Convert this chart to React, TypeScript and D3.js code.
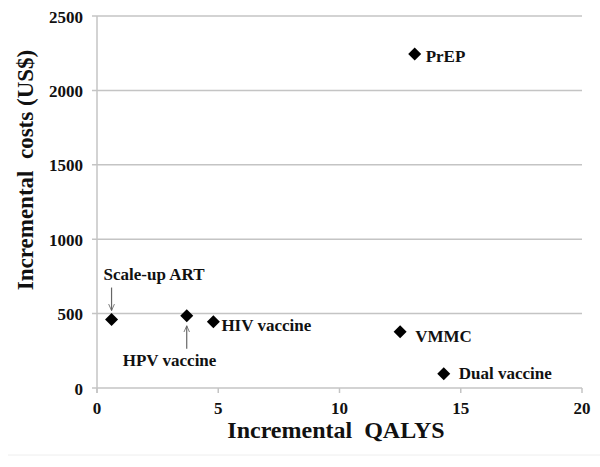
import React from "react";
import * as d3 from "d3";

const labels = ["Scale-up ART", "HPV vaccine", "HIV vaccine", "VMMC", "Dual vaccine", "PrEP"];
const qalys = [0.6, 3.7, 4.8, 12.5, 14.3, 13.1];
const costs = [460, 485, 445, 378, 95, 2245];
const xTicks = [0, 5, 10, 15, 20];
const yTicks = [0, 500, 1000, 1500, 2000, 2500];

export default function App() {
  const W = 600, H = 467;
  const x = d3.scaleLinear().domain([0, 20]).range([97, 582]);
  const y = d3.scaleLinear().domain([0, 2500]).range([388, 16]);
  const font = "'Liberation Serif', 'Times New Roman', serif";
  const diamond = (cx: number, cy: number) => {
    const r = 6.5;
    return `M${cx},${cy - r}L${cx + r},${cy}L${cx},${cy + r}L${cx - r},${cy}Z`;
  };
  const lab: Record<string, { dx: number; dy: number }> = {
    "Scale-up ART": { dx: -8, dy: -40 },
    "HPV vaccine": { dx: -64, dy: 50 },
    "HIV vaccine": { dx: 8, dy: 9 },
    "VMMC": { dx: 15, dy: 10 },
    "Dual vaccine": { dx: 15, dy: 5 },
    "PrEP": { dx: 11, dy: 8 },
  };
  return (
    <svg width={W} height={H} style={{ position: "absolute", left: 0, top: 0 }}>
      <rect width={W} height={H} fill="#fff" />
      {yTicks.map((t) => (
        <g key={t}>
          <line x1={x(0) - 5} x2={x(20)} y1={y(t)} y2={y(t)} stroke="#c4c4c4" strokeWidth={1.5} />
          <text x={x(0) - 14} y={y(t) + 6.5} textAnchor="end" fontFamily={font} fontWeight="bold" fontSize={17} fill="#111">
            {t}
          </text>
        </g>
      ))}
      <line x1={x(0)} x2={x(0)} y1={y(2500)} y2={y(0) + 5} stroke="#c4c4c4" strokeWidth={1.5} />
      {xTicks.map((t) => (
        <g key={t}>
          <line x1={x(t)} x2={x(t)} y1={y(0)} y2={y(0) + 5} stroke="#c4c4c4" strokeWidth={1.5} />
          <text x={x(t)} y={y(0) + 26} textAnchor="middle" fontFamily={font} fontWeight="bold" fontSize={17} fill="#111">
            {t}
          </text>
        </g>
      ))}
      <defs>
        <marker id="ah" viewBox="0 0 10 10" refX={9} refY={5} markerWidth={6} markerHeight={6} orient="auto">
          <path d="M0,1L9,5L0,9" fill="none" stroke="#666" strokeWidth={1.2} />
        </marker>
      </defs>
      <line x1={x(qalys[0])} x2={x(qalys[0])} y1={y(costs[0]) - 32} y2={y(costs[0]) - 9} stroke="#666" strokeWidth={1.2} markerEnd="url(#ah)" />
      <line x1={x(qalys[1])} x2={x(qalys[1])} y1={y(costs[1]) + 33} y2={y(costs[1]) + 10} stroke="#666" strokeWidth={1.2} markerEnd="url(#ah)" />
      {labels.map((l, i) => {
        const px = x(qalys[i]);
        const py = y(costs[i]);
        const o = lab[l];
        return (
          <g key={l}>
            <path d={diamond(px, py)} fill="#000" />
            <text x={px + o.dx} y={py + o.dy} fontFamily={font} fontWeight="bold" fontSize={17} fill="#111">
              {l}
            </text>
          </g>
        );
      })}
      <text x={336} y={438} textAnchor="middle" fontFamily={font} fontWeight="bold" fontSize={24} fill="#111" style={{ whiteSpace: "pre" }}>
        Incremental  QALYS
      </text>
      <text transform={`translate(33,170) rotate(-90)`} textAnchor="middle" fontFamily={font} fontWeight="bold" fontSize={23} fill="#111" style={{ whiteSpace: "pre" }}>
        Incremental  costs (US$)
      </text>
      <line x1={8} x2={600} y1={455} y2={455} stroke="#eeeeee" strokeWidth={1} />
    </svg>
  );
}
